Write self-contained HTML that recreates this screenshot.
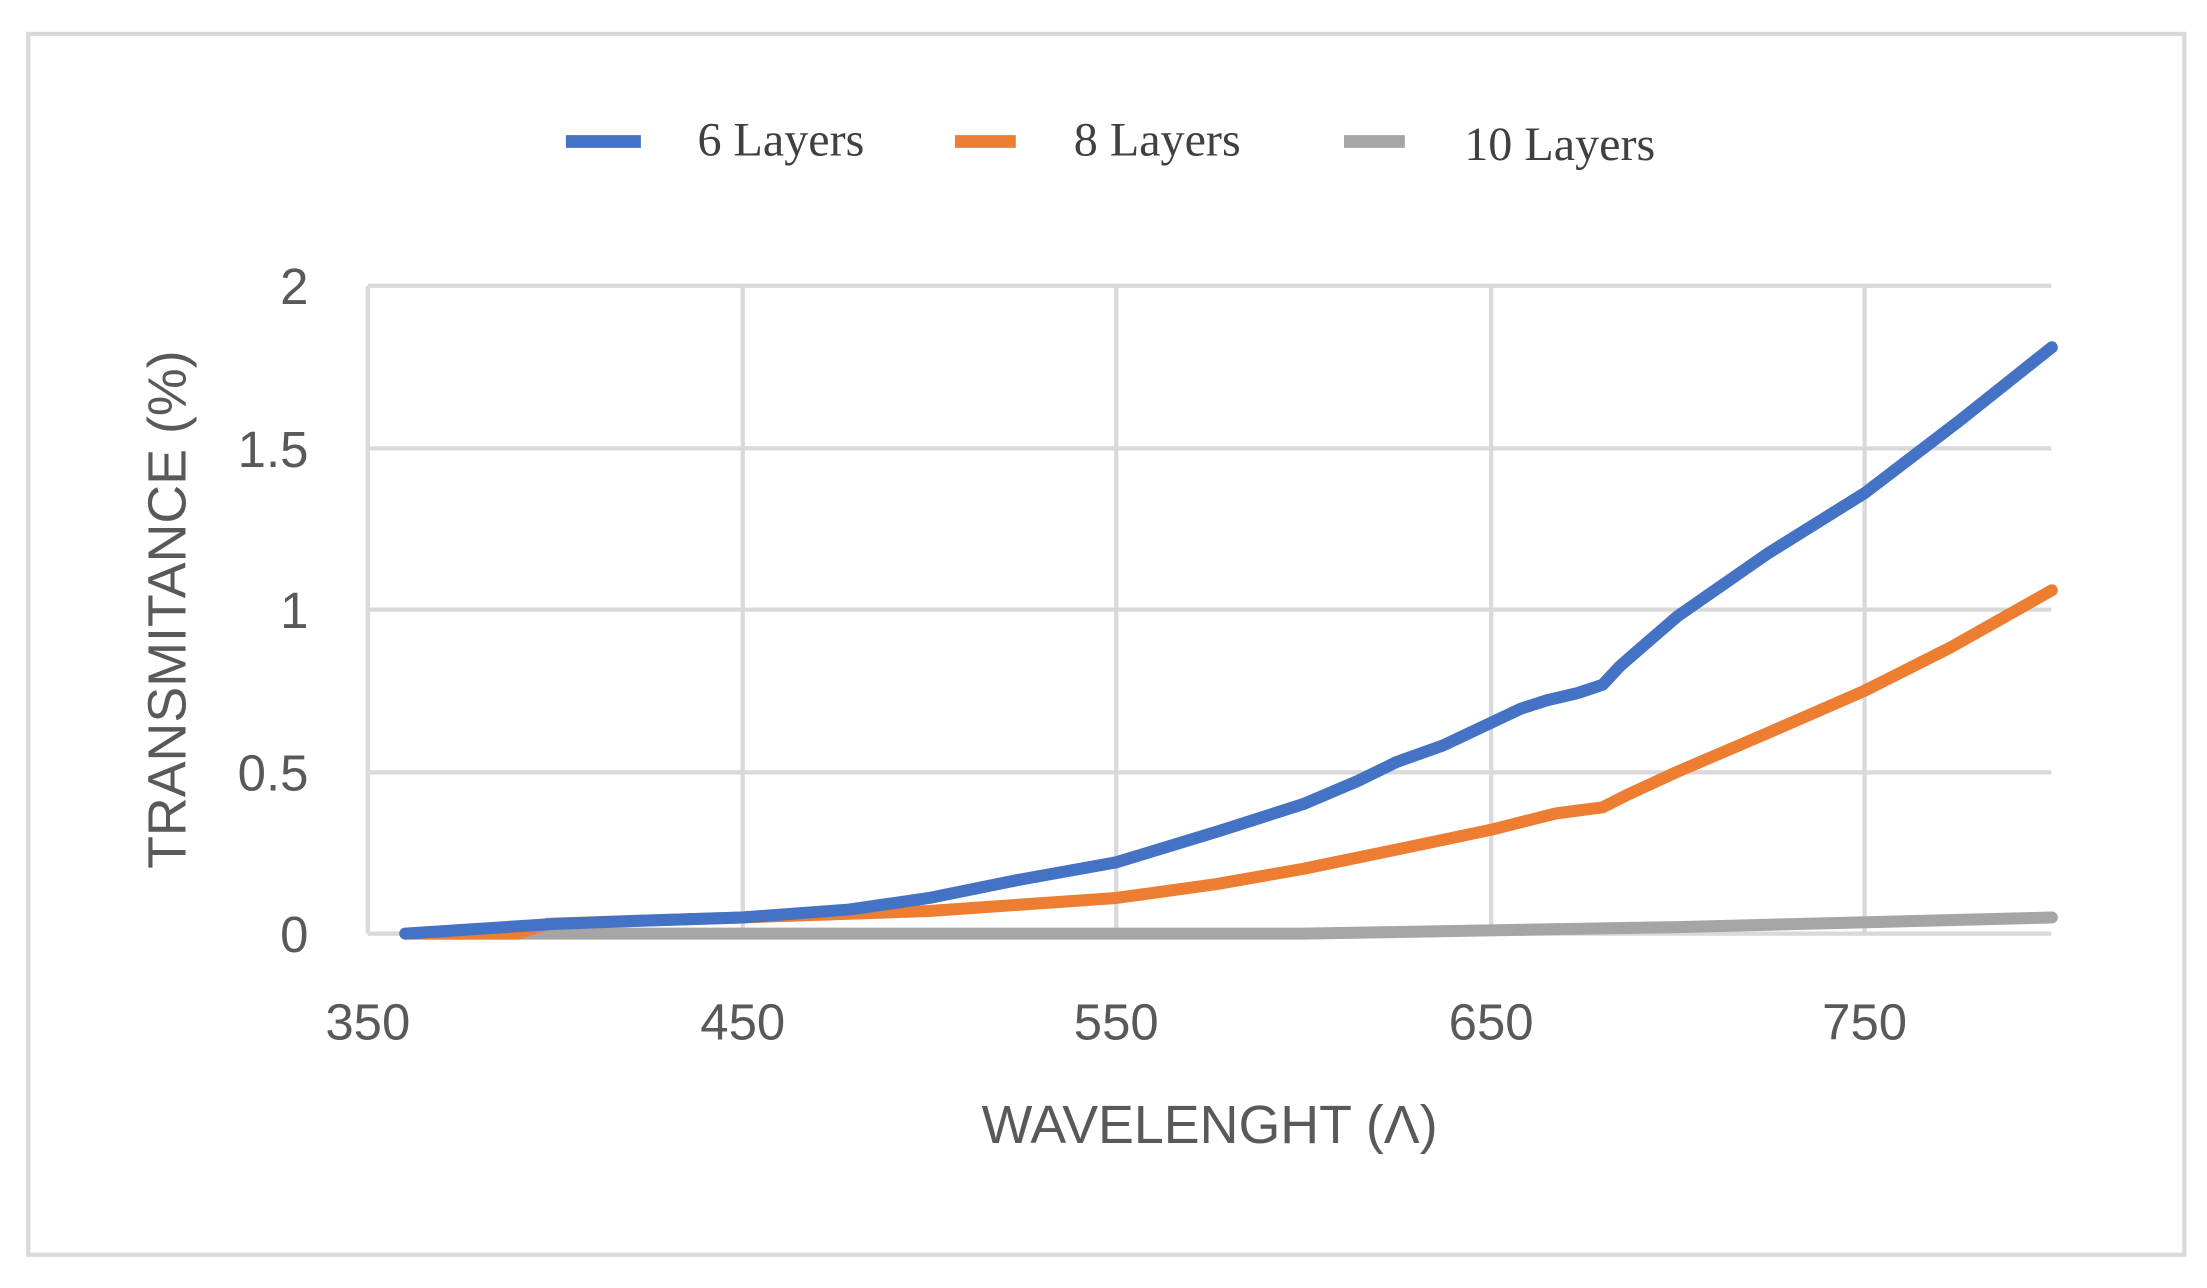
<!DOCTYPE html>
<html><head><style>html,body{margin:0;padding:0;background:#fff;}</style></head>
<body>
<svg width="2207" height="1283" viewBox="0 0 1560 907" preserveAspectRatio="none" xmlns="http://www.w3.org/2000/svg">
<rect x="0" y="0" width="1560" height="907" fill="#fff"/>
<rect x="20" y="24" width="1524" height="863" fill="#fff" stroke="#d9d9d9" stroke-width="3"/>
<g stroke="#d9d9d9" stroke-width="3">
<line x1="260" y1="202" x2="1450" y2="202"/>
<line x1="260" y1="317" x2="1450" y2="317"/>
<line x1="260" y1="431" x2="1450" y2="431"/>
<line x1="260" y1="546" x2="1450" y2="546"/>
<line x1="260" y1="660" x2="1450" y2="660"/>
<line x1="260" y1="202" x2="260" y2="660"/>
<line x1="525" y1="202" x2="525" y2="660"/>
<line x1="789" y1="202" x2="789" y2="660"/>
<line x1="1054" y1="202" x2="1054" y2="660"/>
<line x1="1318" y1="202" x2="1318" y2="660"/>
</g>
<g font-family="Liberation Sans, sans-serif" font-size="36" fill="#595959">
<text x="218" y="215" text-anchor="end">2</text>
<text x="218" y="330" text-anchor="end">1.5</text>
<text x="218" y="444" text-anchor="end">1</text>
<text x="218" y="559" text-anchor="end">0.5</text>
<text x="218" y="673" text-anchor="end">0</text>
<text x="260" y="735" text-anchor="middle">350</text>
<text x="525" y="735" text-anchor="middle">450</text>
<text x="789" y="735" text-anchor="middle">550</text>
<text x="1054" y="735" text-anchor="middle">650</text>
<text x="1318" y="735" text-anchor="middle">750</text>
<text x="855" y="808" text-anchor="middle" font-size="38">WAVELENGHT (Λ)</text>
<text transform="translate(131,431) rotate(-90)" text-anchor="middle" font-size="38">TRANSMITANCE (%)</text>
</g>
<g fill="none" stroke-width="8.5" stroke-linejoin="round" stroke-linecap="round">
<polyline stroke="#a5a5a5" points="286.5,660 921,660 1185.8,655.4 1450.3,648.6"/>
<polyline stroke="#ed7d31" points="286.5,660 365.8,660 387,653.1 450,651 524.5,648.6 656.8,644 789,634.8 860,625 921.3,614.2 990,600 1053.5,586.7 1100,575 1132.9,570.7 1150,562 1185.8,545.5 1250,518 1318,488.3 1380,457 1450.3,417.3"/>
<polyline stroke="#4472c4" points="286.5,660 392.3,653.1 450,651 524.5,648.6 600,643 656.8,634.8 720,622 789,609.6 860,588 921.3,568.4 960,552 987.4,538.6 1020,527 1053.5,511.2 1075,501 1093.2,495.1 1115,490 1132.9,484 1145,471 1159.3,458.5 1185.8,435.6 1250,391 1318,348.6 1384.1,298.2 1450.3,245.5"/>
</g>
<g stroke-width="9">
<line x1="400" y1="100" x2="453" y2="100" stroke="#4472c4"/>
<line x1="675" y1="100" x2="718" y2="100" stroke="#ed7d31"/>
<line x1="950" y1="100" x2="993" y2="100" stroke="#a5a5a5"/>
</g>
<g font-family="Liberation Serif, serif" font-size="34" fill="#404040">
<text x="493" y="110">6 Layers</text>
<text x="759" y="110">8 Layers</text>
<text x="1035" y="113">10 Layers</text>
</g>
</svg>
</body></html>
